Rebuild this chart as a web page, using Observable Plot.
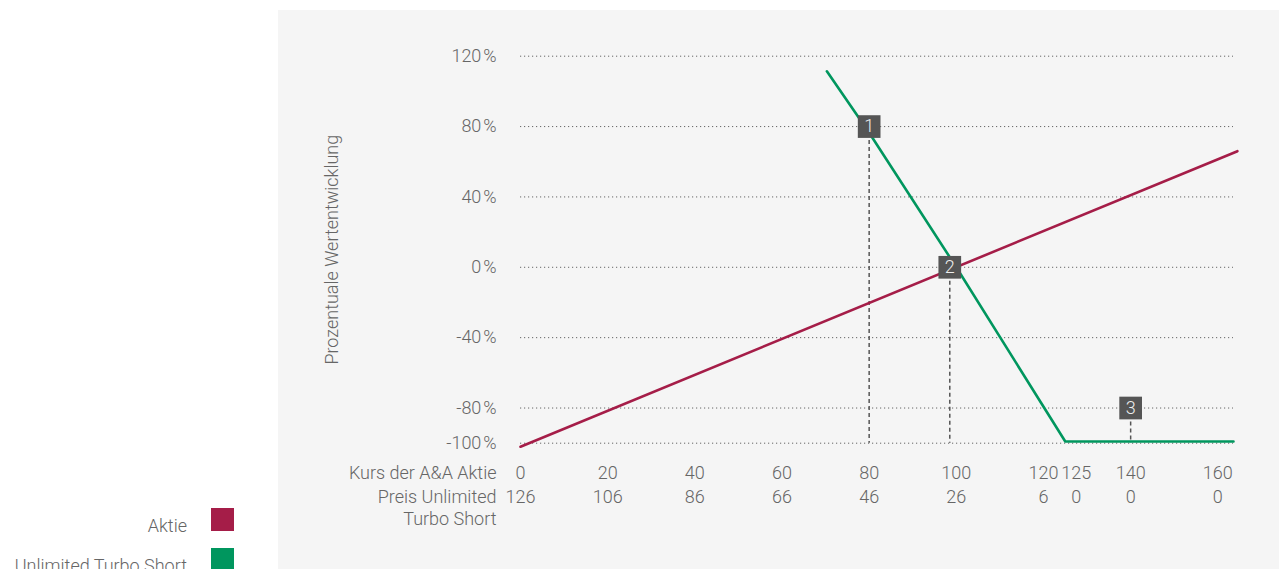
<!DOCTYPE html>
<html>
<head>
<meta charset="utf-8">
<script src="https://cdn.jsdelivr.net/npm/d3@7"></script>
<script src="https://cdn.jsdelivr.net/npm/@observablehq/plot@0.6"></script>
<style>
  html, body { margin: 0; padding: 0; background: #ffffff; overflow: hidden; }
  #root { position: relative; width: 1279px; height: 569px; overflow: hidden; font-family: Roboto, sans-serif; font-weight: 300; color: #666; }
  #panel { position: absolute; left: 278px; top: 10px; width: 1001px; height: 569px; background: #f5f5f5; }
  #chart { position: absolute; left: 0; top: 0; }
  .leg { position: absolute; font-size: 18px; }
  .leg .lab { position: absolute; right: 0; white-space: nowrap; text-align: right; }
  .leg .sw { position: absolute; width: 23px; height: 23px; }
</style>
</head>
<body>
<div id="root">
  <div id="panel"><div id="chart"></div></div>
  <div id="legend"></div>
</div>
<script>
// ---- data ----
const aktieX = [0, 164.5];
const aktieY = [-102, 66];
const turboX = [70.3, 80, 100, 125, 163.6];
const turboY = [111.4, 76.5, 0, -99, -99];
const yTicks = [120, 80, 40, 0, -40, -80, -100];
const xTicks = [0, 20, 40, 60, 80, 100, 120, 125, 140, 160];
const kursLabels = ["0", "20", "40", "60", "80", "100", "120", "125", "140", "160"];
const preisLabels = ["126", "106", "86", "66", "46", "26", "6", "0", "0", "0"];
const rowLabels = ["Kurs der A&A Aktie", "Preis Unlimited", "Turbo Short"];
const markerX = [80, 98.5, 140];
const markerY = [80, 0, -80];
const markerLabels = ["1", "2", "3"];
const seriesNames = ["Aktie", "Unlimited Turbo Short"];
const seriesColors = ["#a51d48", "#00965e"];
const yTitle = "Prozentuale Wertentwicklung";

// ---- tables ----
const aktie = aktieX.map((x, i) => ({x, y: aktieY[i]}));
const turbo = turboX.map((x, i) => ({x, y: turboY[i]}));
const markers = markerX.map((x, i) => ({x, y: markerY[i], label: markerLabels[i]}));
const ticks = xTicks.map((v, i) => ({v, kurs: kursLabels[i], preis: preisLabels[i]}));
const shifted = d => d.v === 125; // label moved right to avoid overlap

const W = 1001, H = 559;
const fs = 18;
const row1 = 30.5, row2 = 54, row3 = 76.5;
const txt = {fill: "#666", lineAnchor: "middle"};

const chart = Plot.plot({
  width: W,
  height: H,
  marginLeft: 242,
  marginRight: 46,
  marginTop: 45.7,
  marginBottom: 126.3,
  style: {fontFamily: "Roboto, sans-serif", fontWeight: 300, fontSize: fs + "px", color: "#666", background: "transparent", overflow: "visible"},
  x: {domain: [0, 163.6], axis: null},
  y: {domain: [-100, 120]},
  marks: [
    Plot.gridY(yTicks, {stroke: "#666", strokeOpacity: 1, strokeDasharray: "1.2,2.8", strokeWidth: 1}),
    Plot.axisY(yTicks, {tickSize: 0, tickPadding: 24, tickFormat: d => d + "\u200A%", label: null, fontSize: fs}),
    Plot.ruleX(markers, {x: "x", y1: "y", y2: -100, stroke: "#555", strokeDasharray: "4,3", strokeWidth: 1.5}),
    Plot.line(aktie, {x: "x", y: "y", stroke: seriesColors[0], strokeWidth: 2.6}),
    Plot.line(turbo, {x: "x", y: "y", stroke: seriesColors[1], strokeWidth: 2.6}),
    Plot.dot(markers, {x: "x", y: "y", symbol: "square", r: 12.8, fill: "#555", stroke: null}),
    Plot.text(markers, {x: "x", y: "y", text: "label", fill: "#eeeeee", fontSize: 18}),
    Plot.text(ticks.filter(d => !shifted(d)), {...txt, x: "v", text: "kurs", frameAnchor: "bottom", dy: row1}),
    Plot.text(ticks.filter(d => !shifted(d)), {...txt, x: "v", text: "preis", frameAnchor: "bottom", dy: row2}),
    Plot.text(ticks.filter(shifted), {...txt, x: "v", text: "kurs", frameAnchor: "bottom", dy: row1, dx: 11}),
    Plot.text(ticks.filter(shifted), {...txt, x: "v", text: "preis", frameAnchor: "bottom", dy: row2, dx: 11}),
    Plot.text([rowLabels[0]], {...txt, frameAnchor: "bottom-left", textAnchor: "end", dx: -24, dy: row1}),
    Plot.text([rowLabels[1]], {...txt, frameAnchor: "bottom-left", textAnchor: "end", dx: -24, dy: row2}),
    Plot.text([rowLabels[2]], {...txt, frameAnchor: "bottom-left", textAnchor: "end", dx: -24, dy: row3}),
    Plot.text([yTitle], {...txt, frameAnchor: "left", textAnchor: "middle", rotate: -90, dx: -188})
  ]
});
document.getElementById("chart").appendChild(chart);

// ---- legend (HTML, outside the SVG) ----
const legend = document.getElementById("legend");
const legTops = [508, 548];
seriesNames.forEach((name, i) => {
  const sw = document.createElement("div");
  sw.className = "leg";
  sw.style.left = "0px";
  sw.style.top = legTops[i] + "px";
  sw.style.width = "234px";
  sw.style.height = "23px";
  const lab = document.createElement("div");
  lab.className = "lab";
  lab.textContent = name;
  lab.style.right = "47px";
  lab.style.top = "0px";
  lab.style.lineHeight = "35px";
  const box = document.createElement("div");
  box.className = "sw";
  box.style.right = "0px";
  box.style.top = "0px";
  box.style.background = seriesColors[i];
  sw.appendChild(lab);
  sw.appendChild(box);
  legend.appendChild(sw);
});
</script>
</body>
</html>
